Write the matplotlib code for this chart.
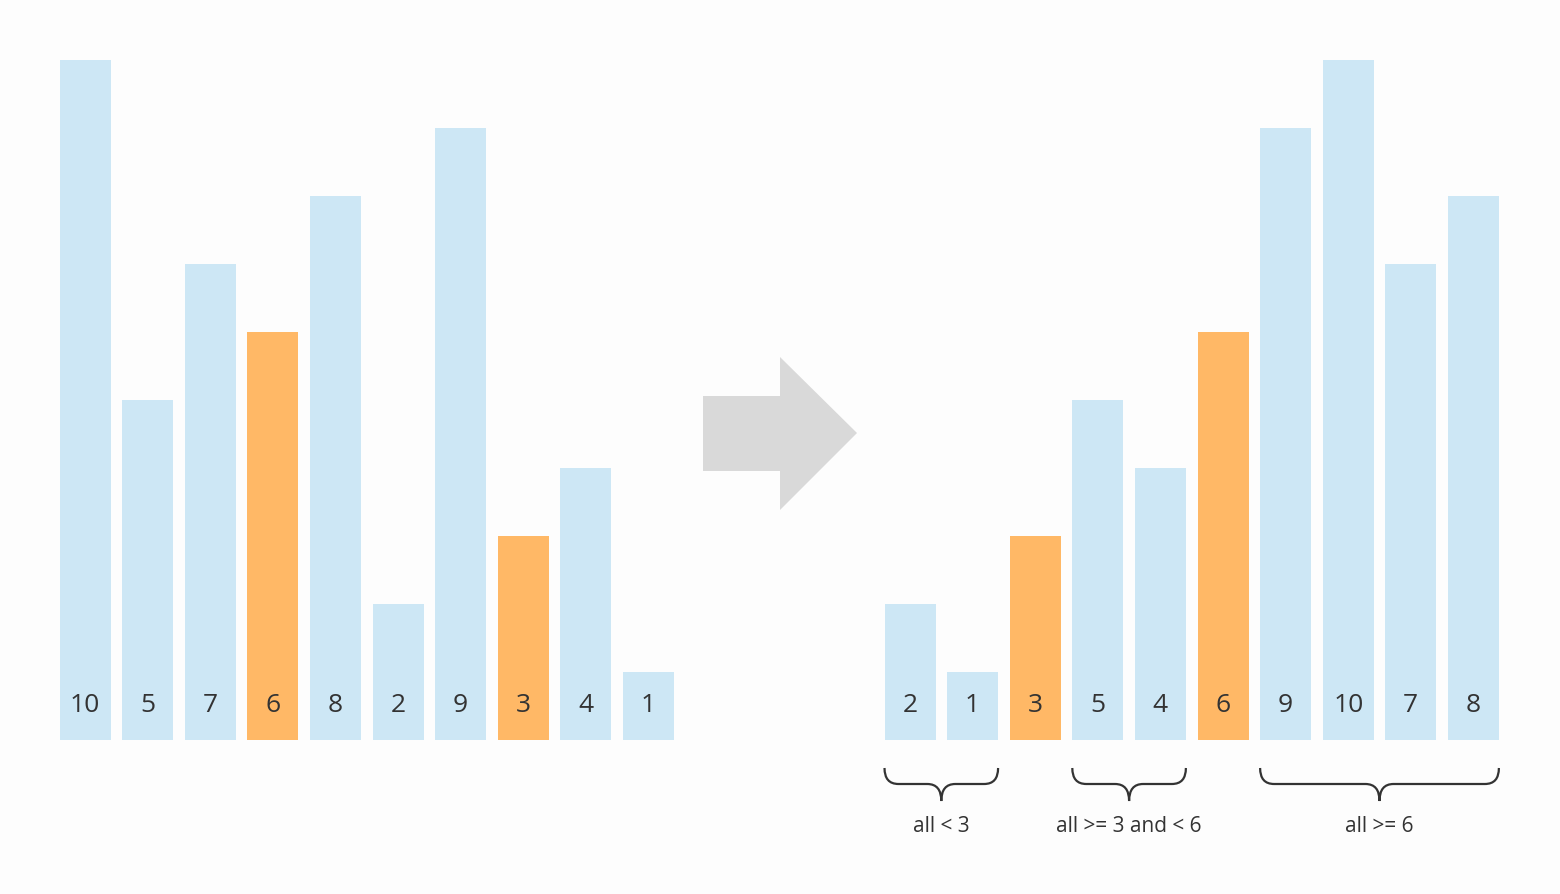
import matplotlib
matplotlib.use("Agg")
import matplotlib.pyplot as plt
from matplotlib.patches import Polygon, PathPatch
from matplotlib.path import Path

left_values = [10, 5, 7, 6, 8, 2, 9, 3, 4, 1]
left_pivot = [False, False, False, True, False, False, False, True, False, False]
right_values = [2, 1, 3, 5, 4, 6, 9, 10, 7, 8]
right_pivot = [False, False, True, False, False, True, False, False, False, False]
group_labels = ["all < 3", "all >= 3 and < 6", "all >= 6"]
group_spans = [(0, 1), (3, 4), (6, 9)]

BLUE = "#cde7f5"
ORANGE = "#ffb866"
TXT = "#333333"
plt.rcParams['font.family'] = ['Open Sans', 'DejaVu Sans']

fig = plt.figure(figsize=(15.6, 8.94), dpi=100, facecolor="#fdfdfd")
ax = fig.add_axes([0, 0, 1, 1])
ax.set_facecolor("#fdfdfd")
ppu = 68.0
ax.set_xlim(0, 1560)
ax.set_ylim(-(894 - 740) / ppu, 740 / ppu)
ax.axis("off")

W = 51
step = 62.6
lx = [85 + i * step for i in range(len(left_values))]
rx = [910 + i * step for i in range(len(right_values))]

for xs, vals, piv in ((lx, left_values, left_pivot), (rx, right_values, right_pivot)):
    ax.bar(xs, vals, width=W, color=[ORANGE if p else BLUE for p in piv], linewidth=0)
    for x, v in zip(xs, vals):
        ax.text(x, 0.5, str(v), ha="center", va="center", fontsize=19, color=TXT)

# arrow
def py(p):
    return (740 - p) / ppu
arrow = Polygon([(703, py(396)), (780, py(396)), (780, py(357)), (857, py(433)),
                 (780, py(510)), (780, py(471)), (703, py(471))],
                closed=True, color="#d9d9d9", lw=0)
ax.add_patch(arrow)

# braces
for (a, b), lab in zip(group_spans, group_labels):
    x0 = rx[a] - W / 2
    x1 = rx[b] + W / 2
    xm = (x0 + x1) / 2
    yt, ym, yb = py(768), py(784), py(801)
    r = 14
    verts = [(x0, yt), (x0, ym), (x0 + r, ym), (xm - r, ym), (xm, ym), (xm, yb),
             (xm, ym), (xm + r, ym), (x1 - r, ym), (x1, ym), (x1, yt)]
    codes = [Path.MOVETO, Path.CURVE3, Path.CURVE3, Path.LINETO, Path.CURVE3, Path.CURVE3,
             Path.CURVE3, Path.CURVE3, Path.LINETO, Path.CURVE3, Path.CURVE3]
    ax.add_patch(PathPatch(Path(verts, codes), fill=False, ec=TXT, lw=1.6))
    ax.text(xm, py(826), lab, ha="center", va="center", fontsize=15, color=TXT)

fig.savefig("out.png", dpi=100, facecolor=fig.get_facecolor())
